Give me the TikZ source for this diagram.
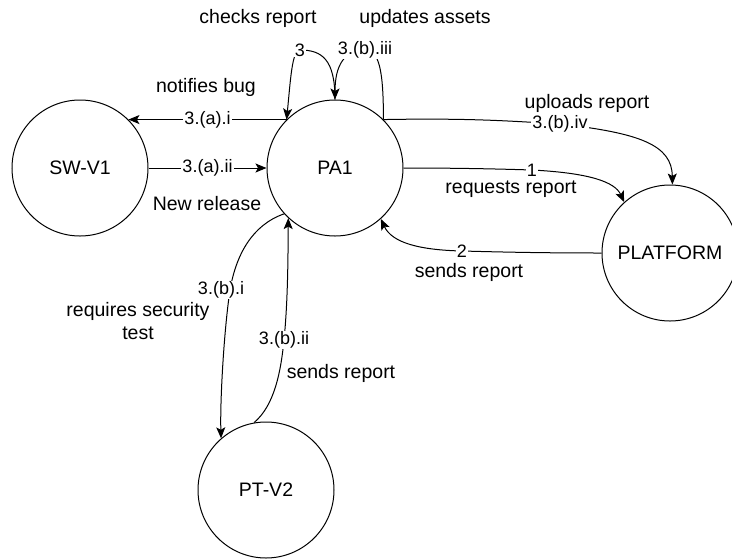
\documentclass[tikz,border=0pt]{standalone}
\usepackage{fontspec}
\setmainfont{Liberation Sans}
\usetikzlibrary{arrows.meta}
\begin{document}
\begin{tikzpicture}[x=1pt, y=-1pt]
	\tikzstyle{proc}=[draw, circle, line width=1pt, minimum size=136pt, inner sep=0pt, font=\fontsize{19.5}{23}\selectfont]
	\tikzstyle{txt}=[align=center, inner sep=1pt, font=\fontsize{19.5}{23}\selectfont]
	\tikzstyle{lbl}=[fill=white, inner sep=1pt, font=\fontsize{18}{21}\selectfont]
	\tikzstyle{flow}=[line width=1pt, -{Stealth[length=11pt, width=9pt, inset=2.5pt]}]
	\useasboundingbox (0,0) rectangle (732,558);

		\node[proc] (sw) at (80,168) {SW-V1};
		\node[proc] (pa) at (335,168) {PA1};
		\node[proc] (plat) at (670,253) {PLATFORM};
		\node[proc] (pt) at (266,490) {PT-V2};

		%========================================================================
		% Texts
		\node[txt] (tcheck) at (258,18) {checks report};
		\node[txt] (tupd) at (425,18) {updates assets};
		\node[txt] (tbug) at (206,87) {notifies bug};
		\node[txt] (trel) at (207,204) {New release};
		\node[txt] (tupl) at (587,103) {uploads report};
		\node[txt] (treq) at (511,189) {requests report};
		\node[txt] (tsend) at (469,272) {sends report};
		\node[txt] (tsec) at (138,321) {requires security\\test};
		\node[txt] (tsend2) at (341,373) {sends report};

		%========================================================================
		% Bends
		\coordinate (c3) at (300,50);
		\coordinate (c3biii) at (365,50);
		\coordinate (c3biv) at (560,124);
		\coordinate (c1) at (532,170);
		\coordinate (c2) at (462,251);
		\coordinate (c3bi) at (230,290);
		\coordinate (c3bii) at (284,340);

		%========================================================================
		% Arrows
		\draw[flow] (pa.135) -- node[lbl] {3.(a).i} (sw.45);
		\draw[flow] (sw.east) -- node[lbl] {3.(a).ii} (pa.west);

		\draw[flow] (pa.90) .. controls +(0,-40) and +(22,0) .. (c3) node[lbl] {3}
			.. controls +(-8,0) and +(4,-40) .. (pa.135);
		\draw[flow] (pa.45) .. controls +(0,-50) and +(14,0) .. (c3biii) node[lbl] {3.(b).iii}
			.. controls +(-20,0) and +(0,-35) .. (pa.90);

		\draw[flow] (pa.45) .. controls (470,118) and (510,121) .. (c3biv) node[lbl] {3.(b).iv}
			.. controls (640,133) and (672,145) .. (plat.88);
		\draw[flow] (pa.east) .. controls (460,168) and (500,169) .. (c1) node[lbl] {1}
			.. controls (590,173) and (615,182) .. (plat.132);
		\draw[flow] (plat.west) .. controls (540,253) and (500,252) .. (c2) node[lbl] {2}
			.. controls (420,250) and (392,243) .. (pa.-48);

		\draw[flow] (pa.222) .. controls (252,225) and (236,255) .. (c3bi) node[lbl, xshift=-9pt] {3.(b).i}
			.. controls (224,330) and (220,400) .. (pt.131);
		\draw[flow] (pt.100) .. controls (275,405) and (281,370) .. (c3bii) node[lbl] {3.(b).ii}
			.. controls (288,300) and (288,255) .. (pa.227);
	\end{tikzpicture}
\end{document}
